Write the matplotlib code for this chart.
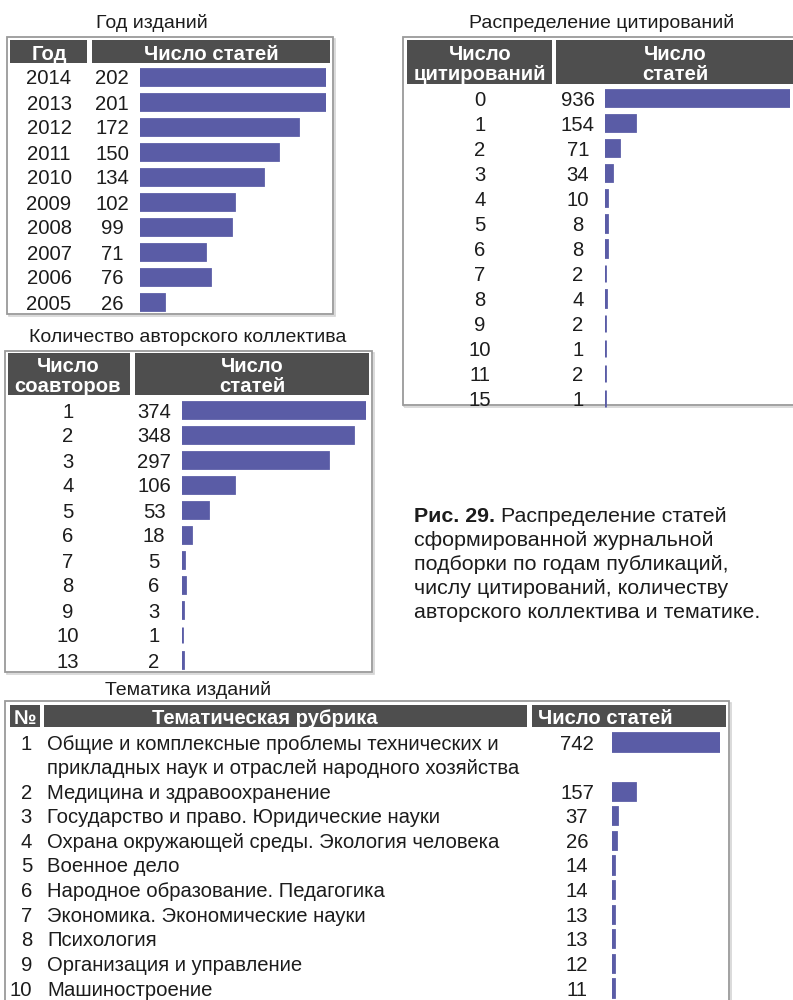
import matplotlib
matplotlib.use("Agg")
import matplotlib.pyplot as plt
from matplotlib.patches import Rectangle
from matplotlib.transforms import blended_transform_factory

plt.rcParams['font.family'] = ['Liberation Sans', 'DejaVu Sans']

# ---- data ----
years = ["2014", "2013", "2012", "2011", "2010", "2009", "2008", "2007", "2006", "2005"]
year_counts = [202, 201, 172, 150, 134, 102, 99, 71, 76, 26]

citations = ["0", "1", "2", "3", "4", "5", "6", "7", "8", "9", "10", "11", "15"]
citation_counts = [936, 154, 71, 34, 10, 8, 8, 2, 4, 2, 1, 2, 1]

coauthors = ["1", "2", "3", "4", "5", "6", "7", "8", "9", "10", "13"]
coauthor_counts = [374, 348, 297, 106, 53, 18, 5, 6, 3, 1, 2]

topic_numbers = ["1", "2", "3", "4", "5", "6", "7", "8", "9", "10"]
topics = [
    "Общие и комплексные проблемы технических и\nприкладных наук и отраслей народного хозяйства",
    "Медицина и здравоохранение",
    "Государство и право. Юридические науки",
    "Охрана окружающей среды. Экология человека",
    "Военное дело",
    "Народное образование. Педагогика",
    "Экономика. Экономические науки",
    "Психология",
    "Организация и управление",
    "Машиностроение",
]
topic_counts = [742, 157, 37, 26, 14, 14, 13, 13, 12, 11]

caption_bold = "Рис. 29."
caption_lines = [
    " Распределение статей",
    "сформированной журнальной",
    "подборки по годам публикаций,",
    "числу цитирований, количеству",
    "авторского коллектива и тематике.",
]

# ---- style ----
W, H = 793, 1000
BAR = "#5a5ca6"
HEAD = "#4e4e4e"
FRAME = "#9a9a9a"
INK = "#1c1c1c"
FS = 14.6     # table cells
TFS = 14      # panel titles
HFS = 14.6    # header cells
CFS = 15.4    # caption
EDGE = 2.0

fig = plt.figure(figsize=(W / 100, H / 100), dpi=100)
fig.patch.set_facecolor("white")


def fx(x):
    return x / W


def fy(y):
    return 1 - y / H


def prect(x0, y0, x1, y1, **kw):
    kw.setdefault("zorder", -1)
    fig.patches.append(Rectangle((fx(x0), fy(y1)), (x1 - x0) / W, (y1 - y0) / H,
                                 transform=fig.transFigure, **kw))


def ptext(x, y, s, **kw):
    kw.setdefault("color", INK)
    kw.setdefault("fontsize", FS)
    return fig.text(fx(x), fy(y), s, **kw)


def frame(x0, y0, x1, y1):
    # light drop shadow under a thin grey border
    prect(x0 + 1.5, y0 + 1.5, x1 + 1.5, y1 + 1.5, facecolor="none",
          edgecolor="#d4d4d4", linewidth=1.2, zorder=-3)
    prect(x0, y0, x1, y1, facecolor="white", edgecolor=FRAME, linewidth=1.3, zorder=-2)


def header_cell(x0, y0, x1, y1, lines, cx, ys):
    prect(x0, y0, x1, y1, facecolor=HEAD, edgecolor="none")
    for line, yy in zip(lines, ys):
        ptext(cx, yy, line, color="white", fontweight="bold", fontsize=HFS,
              ha="center", va="center_baseline")


def bar_axes(x0, x1, y_first, step, n_slots):
    top = y_first - step / 2
    bottom = y_first + (n_slots - 0.5) * step
    ax = fig.add_axes([fx(x0), fy(bottom), (x1 - x0) / W, (bottom - top) / H])
    ax.set_axis_off()
    ax.set_ylim(n_slots - 0.5, -0.5)
    return ax


def bar_panel(ax, labels, values, label_x, value_x):
    pos = list(range(len(values)))
    ax.barh(pos, values, height=0.66, color=BAR, edgecolor=BAR, linewidth=EDGE)
    ax.set_xlim(0, max(values))
    tr = blended_transform_factory(fig.transFigure, ax.transData)
    for p, lab, v in zip(pos, labels, values):
        ax.text(fx(label_x), p, lab, transform=tr, ha="center", va="center_baseline",
                fontsize=FS, color=INK, clip_on=False)
        ax.text(fx(value_x), p, str(v), transform=tr, ha="center", va="center_baseline",
                fontsize=FS, color=INK, clip_on=False)


# ---- Год изданий ----
ptext(152, 21, "Год изданий", fontsize=TFS, ha="center", va="center_baseline")
frame(7, 37, 333, 314)
header_cell(10, 40, 87, 63, ["Год"], 49, [52])
header_cell(92, 40, 330, 63, ["Число статей"], 211, [52])
ax1 = bar_axes(140, 326, 77, 25, len(years))
bar_panel(ax1, years, year_counts, 49, 112)

# ---- Распределение цитирований ----
ptext(602, 21, "Распределение цитирований", fontsize=TFS, ha="center", va="center_baseline")
frame(403, 37, 795, 405)
header_cell(407, 40, 552, 84, ["Число", "цитирований"], 480, [53, 72])
header_cell(556, 40, 795, 84, ["Число", "статей"], 675, [53, 72])
ax2 = bar_axes(605, 790, 98, 25.05, len(citations))
bar_panel(ax2, citations, citation_counts, 480, 578)

# ---- Количество авторского коллектива ----
ptext(188, 335, "Количество авторского коллектива", fontsize=TFS, ha="center",
      va="center_baseline")
frame(5, 351, 372, 672)
header_cell(8, 353, 130, 395, ["Число", "соавторов"], 68, [365, 384])
header_cell(135, 353, 369, 395, ["Число", "статей"], 252, [365, 384])
ax3 = bar_axes(182, 366, 410, 25, len(coauthors))
bar_panel(ax3, coauthors, coauthor_counts, 68, 154)

# ---- caption: bold label followed by regular text on the first line ----
base = [521.5 + 24.2 * i for i in range(len(caption_lines))]
t_bold = ptext(414, base[0], caption_bold, fontsize=CFS, fontweight="bold",
               ha="left", va="baseline")
fig.canvas.draw()
bb = t_bold.get_window_extent()
fig.text(bb.x1 / W, fy(base[0]), caption_lines[0], fontsize=CFS, color=INK,
         ha="left", va="baseline")
for line, yb in zip(caption_lines[1:], base[1:]):
    ptext(414, yb, line, fontsize=CFS, ha="left", va="baseline")

# ---- Тематика изданий ----
ptext(188, 688, "Тематика изданий", fontsize=TFS, ha="center", va="center_baseline")
frame(5, 701, 729, 1010)
header_cell(10, 705, 40, 727, ["№"], 25, [716.5])
header_cell(44, 705, 527, 727, ["Тематическая рубрика"], 265, [716.5])
header_cell(532, 705, 726, 727, ["Число статей"], 605, [716.5])

slots = []
s = 0
for name in topics:
    slots.append(s)
    s += len(name.split("\n"))
ax4 = bar_axes(612, 720, 742, 24.6, s)
ax4.barh(slots, topic_counts, height=0.7, color=BAR, edgecolor=BAR, linewidth=EDGE)
ax4.set_xlim(0, max(topic_counts))
tr4 = blended_transform_factory(fig.transFigure, ax4.transData)
for p, num, name, v in zip(slots, topic_numbers, topics, topic_counts):
    ax4.text(fx(32), p, num, transform=tr4, ha="right", va="center_baseline",
             fontsize=FS, color=INK, clip_on=False)
    for k, line in enumerate(name.split("\n")):
        ax4.text(fx(47), p + k, line, transform=tr4, ha="left", va="center_baseline",
                 fontsize=FS, color=INK, clip_on=False)
    ax4.text(fx(577), p, str(v), transform=tr4, ha="center", va="center_baseline",
             fontsize=FS, color=INK, clip_on=False)

fig.savefig("out.png", dpi=100, facecolor="white")
